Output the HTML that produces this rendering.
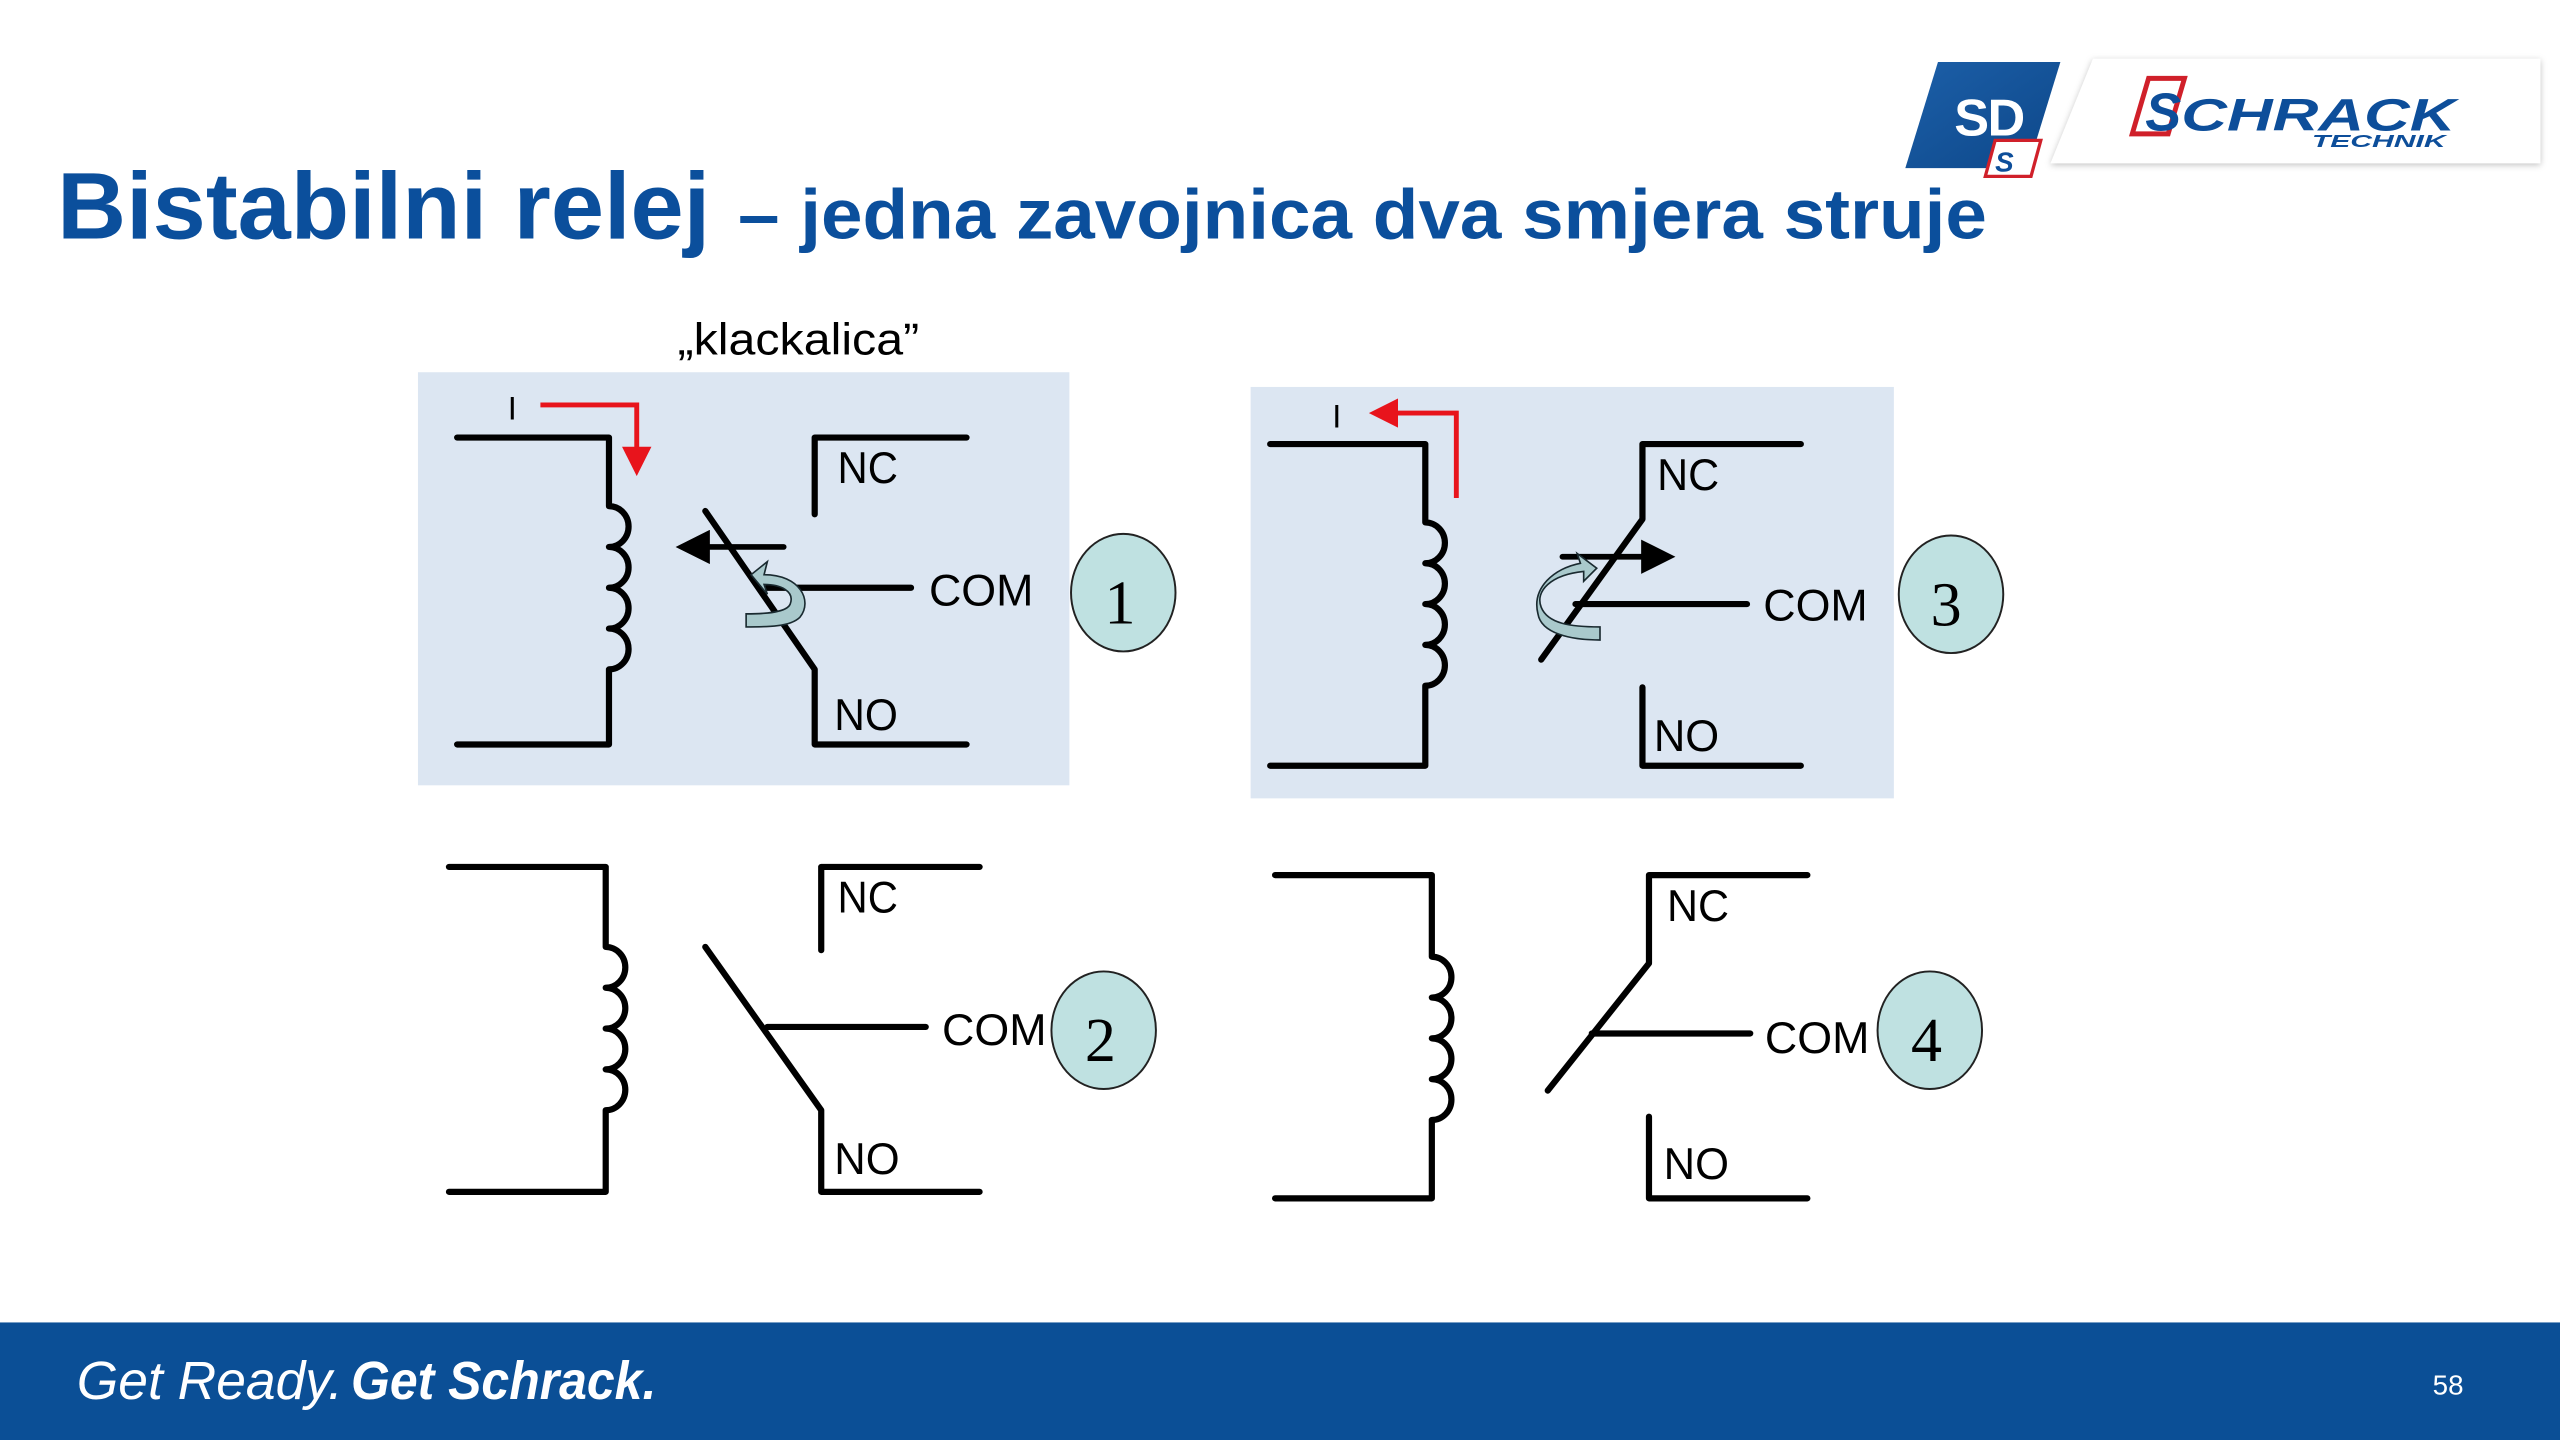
<!DOCTYPE html>
<html><head><meta charset="utf-8"><style>
html,body{margin:0;padding:0;background:#fff;}
svg{display:block;}
</style></head><body>
<svg width="2560" height="1440" viewBox="0 0 1568 882" xmlns="http://www.w3.org/2000/svg" font-family="Liberation Sans, sans-serif">
<defs>
<linearGradient id="sd" x1="0" y1="0" x2="1" y2="1"><stop offset="0" stop-color="#1c5fa8"/><stop offset="1" stop-color="#0d4789"/></linearGradient>
<filter id="sh" x="-5%" y="-20%" width="110%" height="140%"><feDropShadow dx="0" dy="1" stdDeviation="2" flood-color="#000" flood-opacity="0.25"/></filter>
<marker id="ab" viewBox="0 0 10 10" refX="8" refY="5" markerWidth="6" markerHeight="6" orient="auto"><path d="M0,0 L10,5 L0,10 z" fill="#000"/></marker>
<marker id="ar" viewBox="0 0 10 10" refX="8" refY="5" markerWidth="6" markerHeight="6" orient="auto"><path d="M0,0 L10,5 L0,10 z" fill="#e8141c"/></marker>
</defs>

<!-- Logo -->
<polygon points="1187,38 1262,38 1242,103 1167,103" fill="url(#sd)"/>
<text x="1197" y="83" font-size="32" font-weight="bold" fill="#fff" letter-spacing="-1">SD</text>
<polygon points="1222,86 1250,86 1244,108 1216,108" fill="#fff" stroke="#d0202a" stroke-width="2"/>
<text x="1222" y="105" font-size="17" font-weight="bold" font-style="italic" fill="#0d4e9a">S</text>
<polygon points="1282,36 1556,36 1556,100 1256,100" fill="#fff" filter="url(#sh)"/>
<polygon points="1316,48 1338,48 1328,82 1306,82" fill="none" stroke="#d0202a" stroke-width="3"/>
<text x="1314" y="80" font-size="33" font-weight="bold" font-style="italic" fill="#0d4e9a">S</text>
<text x="1336" y="80" font-size="28" font-weight="bold" font-style="italic" fill="#0d4e9a" textLength="168" lengthAdjust="spacingAndGlyphs">CHRACK</text>
<text x="1416" y="90" font-size="11" font-weight="bold" font-style="italic" fill="#0d4e9a" textLength="82" lengthAdjust="spacingAndGlyphs">TECHNIK</text>

<!-- Title -->
<text x="35" y="146" font-size="58" font-weight="bold" fill="#0b4f9c" textLength="400" lengthAdjust="spacingAndGlyphs">Bistabilni relej</text>
<text x="452" y="146" font-size="43" font-weight="bold" fill="#0b4f9c" textLength="765" lengthAdjust="spacingAndGlyphs">– jedna zavojnica dva smjera struje</text>

<text x="415" y="217" font-size="27" fill="#000" textLength="148" lengthAdjust="spacingAndGlyphs">„klackalica”</text>

<!-- Panels -->
<rect x="256" y="228" width="399" height="253" fill="#dce6f2"/>
<rect x="766" y="237" width="394" height="252" fill="#dce6f2"/>

<g fill="none" stroke="#000" stroke-width="3.8" stroke-linecap="round" stroke-linejoin="round">
<!-- Diagram 1 -->
<path d="M280,268 H373 V310 a12,12.5 0 0 1 0,25 a12,12.5 0 0 1 0,25 a12,12.5 0 0 1 0,25 a12,12.5 0 0 1 0,25 V456 H280"/>
<path d="M499,315 V268 H592"/>
<path d="M432,313 L499,410 V456 H592"/>
<path d="M470,360 H558"/>
<path d="M480,335 H418" stroke-width="3.5" marker-end="url(#ab)"/>
<!-- Diagram 3 -->
<path d="M778,272 H873 V320 a12,12.5 0 0 1 0,25 a12,12.5 0 0 1 0,25 a12,12.5 0 0 1 0,25 a12,12.5 0 0 1 0,25 V469 H778"/>
<path d="M944,404 L1006,318 V272 H1103"/>
<path d="M1006,421 V469 H1103"/>
<path d="M965,370 H1070"/>
<path d="M957,341 H1022" stroke-width="3.5" marker-end="url(#ab)"/>
<!-- Diagram 2 -->
<path d="M275,531 H371 V580 a12,12.5 0 0 1 0,25 a12,12.5 0 0 1 0,25 a12,12.5 0 0 1 0,25 a12,12.5 0 0 1 0,25 V730 H275"/>
<path d="M503,582 V531 H600"/>
<path d="M432,580 L503,680 V730 H600"/>
<path d="M470,629 H567"/>
<!-- Diagram 4 -->
<path d="M781,536 H877 V586 a12,12.5 0 0 1 0,25 a12,12.5 0 0 1 0,25 a12,12.5 0 0 1 0,25 a12,12.5 0 0 1 0,25 V734 H781"/>
<path d="M948,668 L1010,590 V536 H1107"/>
<path d="M1010,684 V734 H1107"/>
<path d="M975,633 H1072"/>
</g>

<!-- red currents -->
<g fill="none" stroke="#e8141c" stroke-width="3">
<path d="M331,248 H390 V288" marker-end="url(#ar)"/>
<path d="M892,305 V253 H842" marker-end="url(#ar)"/>
</g>
<g font-size="20" fill="#000"><text x="311" y="257">I</text><text x="816" y="262">I</text></g>

<!-- curved arrows -->
<path d="M468,352 C490,352 498,368 490,378 C484,384 470,384 457,384 L457,376 C470,376 482,375 484,370 C487,362 478,358 468,358 L470,364 L460,352 L470,344 Z" fill="#a9c9cc" stroke="#1a2a30" stroke-width="1"/>
<path d="M970,350 C950,352 940,362 944,372 C948,382 962,384 980,384 L980,392 C962,392 944,388 942,376 C938,360 952,348 968,345 L966,339 L978,348 L970,356 Z" fill="#a9c9cc" stroke="#1a2a30" stroke-width="1"/>

<!-- labels -->
<g font-size="27" fill="#000" font-family="Liberation Sans, sans-serif">
<text x="513" y="296" textLength="37" lengthAdjust="spacingAndGlyphs">NC</text>
<text x="511" y="447" textLength="39" lengthAdjust="spacingAndGlyphs">NO</text>
<text x="569" y="371" textLength="64" lengthAdjust="spacingAndGlyphs">COM</text>
<text x="1015" y="300" textLength="38" lengthAdjust="spacingAndGlyphs">NC</text>
<text x="1013" y="460" textLength="40" lengthAdjust="spacingAndGlyphs">NO</text>
<text x="1080" y="380" textLength="64" lengthAdjust="spacingAndGlyphs">COM</text>
<text x="513" y="559" textLength="37" lengthAdjust="spacingAndGlyphs">NC</text>
<text x="511" y="719" textLength="40" lengthAdjust="spacingAndGlyphs">NO</text>
<text x="577" y="640" textLength="64" lengthAdjust="spacingAndGlyphs">COM</text>
<text x="1021" y="564" textLength="38" lengthAdjust="spacingAndGlyphs">NC</text>
<text x="1019" y="722" textLength="40" lengthAdjust="spacingAndGlyphs">NO</text>
<text x="1081" y="645" textLength="64" lengthAdjust="spacingAndGlyphs">COM</text>
</g>

<!-- numbered badges -->
<g fill="#bfe1e1" stroke="#222" stroke-width="1.2">
<ellipse cx="688" cy="363" rx="32" ry="36"/>
<ellipse cx="1195" cy="364" rx="32" ry="36"/>
<ellipse cx="676" cy="631" rx="32" ry="36"/>
<ellipse cx="1182" cy="631" rx="32" ry="36"/>
</g>
<g font-family="Liberation Serif, serif" font-size="38" fill="#000" text-anchor="middle">
<text x="686" y="382">1</text>
<text x="1192" y="383">3</text>
<text x="674" y="650">2</text>
<text x="1180" y="650">4</text>
</g>

<!-- footer -->
<rect x="0" y="810" width="1568" height="72" fill="#0b4f96"/>
<text x="47" y="857" font-size="33" font-style="italic" fill="#fff" textLength="163" lengthAdjust="spacingAndGlyphs">Get Ready.</text>
<text x="215" y="857" font-size="33" font-style="italic" font-weight="bold" fill="#fff" textLength="187" lengthAdjust="spacingAndGlyphs">Get Schrack.</text>
<text x="1490" y="854" font-size="17" fill="#fff">58</text>
</svg>
</body></html>
